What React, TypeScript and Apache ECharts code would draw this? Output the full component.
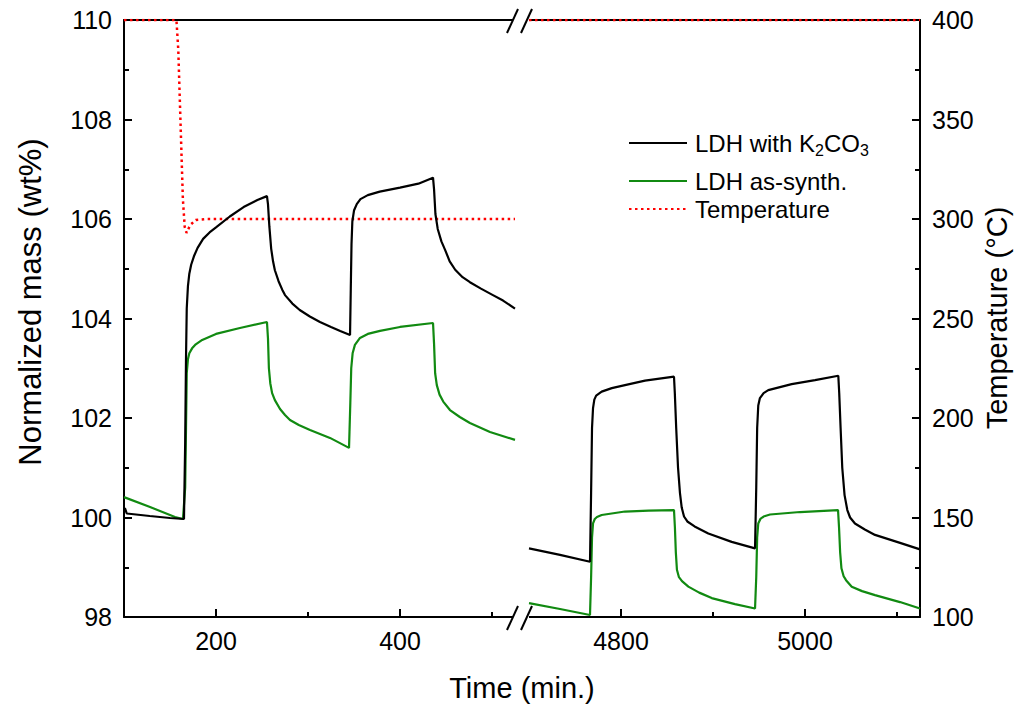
import React, { useEffect, useRef } from "react";
import * as echarts from "echarts";

// ---- Data (time in min., mass in wt%, temperature in °C) ----
const blackLeft: [number, number][] = [
  [100, 100.11], [101, 100.19], [103, 100.08], [128, 100.03], [150, 99.99], [165.2, 99.97],
  [166.5, 101.5], [167.4, 103.2], [168.2, 104.2], [169.5, 104.65], [171, 104.9], [173, 105.08],
  [176, 105.25], [180, 105.42], [186, 105.6], [193, 105.73], [200, 105.83], [215, 106.05],
  [230, 106.24], [245, 106.38], [255.4, 106.46],
  [256.5, 106.3], [258, 105.85], [260, 105.4], [262, 105.15], [264, 104.97], [268, 104.75],
  [272, 104.58], [275, 104.47], [283, 104.3], [291, 104.17], [302, 104.04], [313, 103.93],
  [325, 103.83], [335, 103.75], [345.7, 103.67],
  [346.5, 104.6], [347.3, 105.5], [348.2, 105.95], [350, 106.17], [353, 106.3], [357, 106.4],
  [365, 106.48], [378, 106.55], [400, 106.63], [420, 106.71], [435.9, 106.83],
  [437, 106.6], [438.5, 106.1], [441, 105.8], [445, 105.55], [449, 105.38], [454, 105.15],
  [460, 104.98], [468, 104.83], [476, 104.73], [488, 104.6], [500, 104.48], [512, 104.36],
  [525, 104.2],
];
const greenLeft: [number, number][] = [
  [100, 100.41], [128.3, 100.21], [155.4, 100.01], [164.1, 99.97],
  [166.5, 100.6], [167.4, 101.8], [168.2, 102.9], [169.5, 103.18], [171, 103.3], [174, 103.4],
  [178, 103.48], [185, 103.57], [200, 103.69], [226, 103.81], [255.4, 103.93],
  [256.5, 103.6], [257.5, 103.0], [259, 102.7], [261, 102.5], [264, 102.36], [269.6, 102.18],
  [275, 102.06], [280.4, 101.96], [290, 101.86], [302.2, 101.76], [323.9, 101.6], [344.6, 101.4],
  [346, 102.3], [347, 103.0], [348.5, 103.3], [351, 103.47], [356.5, 103.61], [365, 103.69],
  [378.3, 103.75], [400, 103.83], [435.9, 103.91],
  [437, 103.5], [438.2, 102.9], [440, 102.66], [443, 102.47], [447, 102.33], [454.3, 102.16],
  [465, 102.02], [476, 101.9], [497.8, 101.72], [525, 101.56],
];
const tempLeft: [number, number][] = [
  [100, 400], [157, 400], [159, 385], [162, 340], [164, 310], [166, 296], [168, 293],
  [172, 297], [178, 299.5], [190, 300], [525, 300],
];
const blackRight: [number, number][] = [
  [4700, 99.38], [4733.7, 99.25], [4766.3, 99.11],
  [4767.5, 100.5], [4768.5, 101.8], [4769.6, 102.2], [4771, 102.37], [4773, 102.45],
  [4779, 102.53], [4790, 102.6], [4804.3, 102.66], [4826.1, 102.75], [4857.6, 102.83],
  [4858.5, 102.5], [4860, 101.8], [4862, 101.0], [4864.1, 100.49], [4866, 100.2],
  [4868.5, 100.02], [4872.1, 99.92], [4880, 99.82], [4894.9, 99.68], [4920.3, 99.51],
  [4945.7, 99.38],
  [4947, 100.6], [4948, 101.8], [4949.2, 102.25], [4951, 102.4], [4955, 102.5],
  [4960.1, 102.56], [4985.5, 102.68], [5010.9, 102.76], [5036.2, 102.85],
  [5037.2, 102.5], [5038.7, 101.8], [5040.5, 101.0], [5043, 100.45], [5046, 100.15],
  [5049, 100.0], [5054.3, 99.88], [5065, 99.76], [5076.1, 99.65], [5103.3, 99.49],
  [5125, 99.36],
];
const greenRight: [number, number][] = [
  [4700, 98.28], [4733.7, 98.16], [4766.3, 98.04],
  [4767.5, 98.8], [4768.5, 99.6], [4769.6, 99.88], [4771.5, 99.97], [4773.9, 100.01],
  [4779, 100.05], [4804.3, 100.12], [4830, 100.14], [4857.6, 100.15],
  [4858.6, 99.8], [4859.6, 99.3], [4860.8, 98.95], [4863, 98.8], [4866.3, 98.72],
  [4873.2, 98.61], [4885, 98.49], [4898.6, 98.38], [4923.9, 98.26], [4945.7, 98.17],
  [4947, 98.8], [4948, 99.6], [4949.2, 99.88], [4951.5, 99.97], [4955, 100.02],
  [4962, 100.06], [4994.6, 100.11], [5035.9, 100.15],
  [5037, 99.8], [5038.2, 99.3], [5039.6, 98.98], [5042, 98.82], [5044.6, 98.74],
  [5050.8, 98.61], [5062, 98.52], [5076.1, 98.44], [5103.3, 98.3], [5125, 98.17],
];
const tempRight: [number, number][] = [
  [4700, 400], [5125, 400],
];

const xRangeLeft = [100, 525];
const xRangeRight = [4700, 5125];
const xMajorLeft = [200, 400];
const xMinorLeft = [300, 500];
const xMajorRight = [4800, 5000];
const xMinorRight = [4900, 5100];
const massRange = [98, 110];
const tempRange = [100, 400];

const NAME_K = "LDH with K2CO3";
const NAME_G = "LDH as-synth.";
const NAME_T = "Temperature";

const FONT = "'Liberation Sans', Arial, Helvetica, sans-serif";

export default function App() {
  const ref = useRef<HTMLDivElement>(null);
  useEffect(() => {
    if (!ref.current) return;
    const chart = echarts.init(ref.current, null, { renderer: "svg" });
    const axisLine = { show: true, lineStyle: { color: "#000", width: 2 } };
    const lbl = { color: "#000", fontSize: 25, fontFamily: FONT, formatter: (v: number) => String(v) };
    const tickStyle = { color: "#000", width: 2 };
    const xBase = (grid: number, range: number[]) => ({
      type: "value",
      gridIndex: grid,
      min: range[0],
      max: range[1],
      splitLine: { show: false },
    });
    const legendCommon = {
      left: 628,
      padding: 0,
      itemWidth: 58,
      itemHeight: 14,
      selectedMode: false,
      itemStyle: { opacity: 0 },
    };
    const lineSeries = (name: string, xi: number, yi: number, data: [number, number][], color: string, dotted: boolean, z: number) => ({
      name,
      type: "line",
      xAxisIndex: xi,
      yAxisIndex: yi,
      data,
      symbol: "none",
      lineStyle: { color, width: dotted ? 2.5 : 2.2, type: dotted ? [2.5, 3.5] : "solid" },
      itemStyle: { color },
      z,
    });
    const option: any = {
      animation: false,
      backgroundColor: "#fff",
      textStyle: { fontFamily: FONT },
      grid: [
        { left: 124, width: 391, top: 20, height: 597 },
        { left: 529, width: 391, top: 20, height: 597 },
      ],
      xAxis: [
        {
          ...xBase(0, xRangeLeft),
          position: "bottom",
          axisLine,
          axisTick: { show: true, inside: true, length: 8, customValues: xMajorLeft, lineStyle: tickStyle },
          axisLabel: { ...lbl, margin: 11, customValues: xMajorLeft },
        },
        {
          ...xBase(1, xRangeRight),
          position: "bottom",
          axisLine,
          axisTick: { show: true, inside: true, length: 8, customValues: xMajorRight, lineStyle: tickStyle },
          axisLabel: { ...lbl, margin: 11, customValues: xMajorRight },
        },
        {
          ...xBase(0, xRangeLeft),
          position: "bottom",
          axisLine: { show: false },
          axisTick: { show: true, inside: true, length: 5, customValues: xMinorLeft, lineStyle: tickStyle },
          axisLabel: { show: false },
        },
        {
          ...xBase(1, xRangeRight),
          position: "bottom",
          axisLine: { show: false },
          axisTick: { show: true, inside: true, length: 5, customValues: xMinorRight, lineStyle: tickStyle },
          axisLabel: { show: false },
        },
        {
          ...xBase(0, xRangeLeft),
          position: "top",
          axisLine,
          axisTick: { show: false },
          axisLabel: { show: false },
        },
        {
          ...xBase(1, xRangeRight),
          position: "top",
          axisLine,
          axisTick: { show: false },
          axisLabel: { show: false },
        },
      ],
      yAxis: [
        {
          type: "value",
          gridIndex: 0,
          position: "left",
          min: massRange[0],
          max: massRange[1],
          interval: 2,
          axisLine,
          axisTick: { show: true, inside: true, length: 8, lineStyle: tickStyle },
          minorTick: { show: true, splitNumber: 2, length: 5, lineStyle: tickStyle },
          axisLabel: { ...lbl, margin: 12 },
          splitLine: { show: false },
        },
        {
          type: "value",
          gridIndex: 0,
          position: "right",
          min: tempRange[0],
          max: tempRange[1],
          show: false,
        },
        {
          type: "value",
          gridIndex: 1,
          position: "left",
          min: massRange[0],
          max: massRange[1],
          show: false,
        },
        {
          type: "value",
          gridIndex: 1,
          position: "right",
          min: tempRange[0],
          max: tempRange[1],
          interval: 50,
          axisLine,
          axisTick: { show: true, inside: true, length: 8, lineStyle: tickStyle },
          minorTick: { show: true, splitNumber: 2, length: 5, lineStyle: tickStyle },
          axisLabel: { ...lbl, margin: 12 },
          splitLine: { show: false },
        },
      ],
      legend: [
        {
          ...legendCommon,
          data: [NAME_K],
          top: 128,
          formatter: () => "{a|LDH with K}{s|2}{a|CO}{s|3}",
          textStyle: {
            padding: [0, 0, 0, 3],
            rich: {
              a: { fontSize: 24, lineHeight: 26, color: "#000", fontFamily: FONT },
              s: { fontSize: 16, lineHeight: 16, color: "#000", fontFamily: FONT, padding: [14, 0, 0, 0] },
            },
          },
        },
        {
          ...legendCommon,
          data: [NAME_G],
          top: 168,
          textStyle: { fontSize: 24, lineHeight: 26, color: "#000", fontFamily: FONT, padding: [0, 0, 0, 3] },
        },
        {
          ...legendCommon,
          data: [NAME_T],
          top: 196,
          textStyle: { fontSize: 24, lineHeight: 26, color: "#000", fontFamily: FONT, padding: [0, 0, 0, 3] },
        },
      ],
      series: [
        lineSeries(NAME_T, 0, 1, tempLeft, "#ff0000", true, 3),
        lineSeries(NAME_G, 0, 0, greenLeft, "#118a11", false, 4),
        lineSeries(NAME_K, 0, 0, blackLeft, "#000000", false, 5),
        lineSeries(NAME_T, 1, 3, tempRight, "#ff0000", true, 3),
        lineSeries(NAME_G, 1, 2, greenRight, "#118a11", false, 4),
        lineSeries(NAME_K, 1, 2, blackRight, "#000000", false, 5),
      ],
      graphic: [
        { type: "rect", shape: { x: 513, y: 8, width: 16, height: 24 }, style: { fill: "#fff" }, z: 50 },
        { type: "rect", shape: { x: 513, y: 605, width: 16, height: 24 }, style: { fill: "#fff" }, z: 50 },
        { type: "line", shape: { x1: 507, y1: 33, x2: 518, y2: 9 }, style: { stroke: "#000", lineWidth: 2 }, z: 51 },
        { type: "line", shape: { x1: 521, y1: 33, x2: 532, y2: 9 }, style: { stroke: "#000", lineWidth: 2 }, z: 51 },
        { type: "line", shape: { x1: 507, y1: 630, x2: 518, y2: 606 }, style: { stroke: "#000", lineWidth: 2 }, z: 51 },
        { type: "line", shape: { x1: 521, y1: 630, x2: 532, y2: 606 }, style: { stroke: "#000", lineWidth: 2 }, z: 51 },
        {
          type: "text", x: 30, y: 302, rotation: Math.PI / 2,
          style: { text: "Normalized mass (wt%)", fontSize: 31, fontFamily: FONT, fill: "#000", textAlign: "center", textVerticalAlign: "middle" },
        },
        {
          type: "text", x: 997, y: 318, rotation: Math.PI / 2,
          style: { text: "Temperature (°C)", fontSize: 29, fontFamily: FONT, fill: "#000", textAlign: "center", textVerticalAlign: "middle" },
        },
        {
          type: "text", x: 522, y: 688,
          style: { text: "Time (min.)", fontSize: 29, fontFamily: FONT, fill: "#000", textAlign: "center", textVerticalAlign: "middle" },
        },
      ],
    };
    chart.setOption(option);
    return () => chart.dispose();
  }, []);
  return (
    <div
      ref={ref}
      style={{ position: "fixed", left: 0, top: 0, width: 1018, height: 705, background: "#fff" }}
    />
  );
}
